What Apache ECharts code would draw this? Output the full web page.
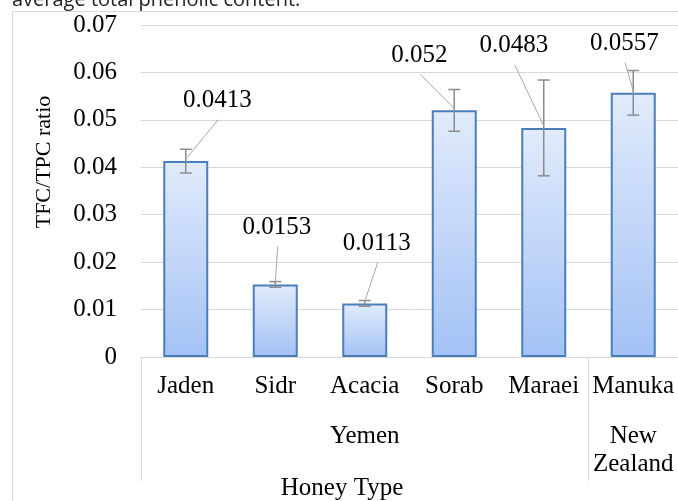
<!DOCTYPE html>
<html lang="en">

<head>
  <meta charset="UTF-8">
  <title>TFC/TPC ratio by honey type</title>
  <script src="https://cdn.jsdelivr.net/npm/echarts@6/dist/echarts.min.js"></script>
  <style>
    html, body { margin: 0; padding: 0; background: #fff; }
    #main { width: 678px; height: 501px; }
  </style>
</head>

<body>
  <div id="main"></div>
  <script>
    // 数据
    var categories = ['Jaden', 'Sidr', 'Acacia', 'Sorab', 'Maraei', 'Manuka'];
    var origins = ['', '', 'Yemen', '', '', 'New\nZealand'];
    var ratio = [0.0413, 0.0153, 0.0113, 0.052, 0.0483, 0.0557];
    var ratioErr = [0.0025, 0.0006, 0.0006, 0.0044, 0.0101, 0.0047];

    // 数据标签相对柱顶的偏移 (像素)
    var labelOffsets = [[31.5, -60.5], [1.5, -57], [12, -60], [-35, -55], [-30, -82], [-9, -49]];

    var serif = '"Liberation Serif", "Times New Roman", serif';
    var myChart = echarts.init(document.getElementById('main'));

    var option = {
      animation: false,
      grid: { left: 141, top: 25, width: 543, bottom: 144 },
      xAxis: [
        {
          type: 'category',
          data: categories,
          axisLine: { lineStyle: { color: '#d9d9d9', width: 1 } },
          axisTick: { show: false },
          axisLabel: { interval: 0, margin: 17, color: '#000', fontFamily: serif, fontSize: 25 }
        },
        {
          type: 'category',
          data: origins,
          position: 'bottom',
          axisLine: { show: false },
          axisTick: {
            show: true,
            length: 124,
            interval: function (index) { return index === 0 || index === 5; },
            lineStyle: { color: '#d9d9d9', width: 1 }
          },
          axisLabel: { interval: 0, margin: 65, color: '#000', fontFamily: serif, fontSize: 25, lineHeight: 28 }
        }
      ],
      yAxis: {
        type: 'value',
        min: 0,
        max: 0.07,
        interval: 0.01,
        axisLine: { show: false },
        axisTick: { show: false },
        splitLine: { lineStyle: { color: '#d9d9d9', width: 1 } },
        axisLabel: {
          margin: 24, color: '#000', fontFamily: serif, fontSize: 25,
          formatter: function (v) { return v === 0 ? '0' : v.toFixed(2); }
        }
      },
      graphic: [
        // 外框
        {
          type: 'rect', shape: { x: 12.5, y: 11.5, width: 700, height: 560 },
          style: { fill: 'none', stroke: '#d9d9d9', lineWidth: 1 }, silent: true
        },
        // 上方被截断的说明文字
        {
          type: 'text', x: 12, y: 0,
          style: { text: 'average total phenolic content.', fill: '#222', font: '20px "Open Sans", sans-serif', textVerticalAlign: 'middle' }
        },
        {
          type: 'text', x: 44, y: 162, rotation: Math.PI / 2,
          style: { text: 'TFC/TPC ratio', fill: '#000', font: '22px ' + serif, textAlign: 'center', textVerticalAlign: 'middle' }
        },
        {
          type: 'text', x: 342, y: 488,
          style: { text: 'Honey Type', fill: '#000', font: '25px ' + serif, textAlign: 'center', textVerticalAlign: 'middle' }
        }
      ],
      series: [
        {
          type: 'bar',
          data: ratio,
          barWidth: 45,
          itemStyle: {
            borderColor: '#4a7ebb',
            borderWidth: 2,
            color: new echarts.graphic.LinearGradient(0, 0, 0, 1, [
              { offset: 0, color: '#e1ebfc' },
              { offset: 1, color: '#a3c2f5' }
            ])
          }
        },
        {
          // 误差线
          type: 'custom',
          data: ratio.map(function (v, i) { return [i, v, ratioErr[i]]; }),
          z: 5,
          renderItem: function (params, api) {
            var i = api.value(0), v = api.value(1), e = api.value(2);
            var hi = api.coord([i, v + e]);
            var lo = api.coord([i, v - e]);
            var style = { stroke: '#8c8c8c', lineWidth: 1.5 };
            return {
              type: 'group',
              children: [
                { type: 'line', shape: { x1: hi[0], y1: hi[1], x2: lo[0], y2: lo[1] }, style: style },
                { type: 'line', shape: { x1: hi[0] - 6, y1: hi[1], x2: hi[0] + 6, y2: hi[1] }, style: style },
                { type: 'line', shape: { x1: lo[0] - 6, y1: lo[1], x2: lo[0] + 6, y2: lo[1] }, style: style }
              ]
            };
          }
        },
        {
          // 数据标签和引导线
          type: 'custom',
          data: ratio.map(function (v, i) { return [i, v]; }),
          z: 6,
          renderItem: function (params, api) {
            var i = api.value(0), v = api.value(1);
            var p = api.coord([i, v]);
            var off = labelOffsets[params.dataIndex];
            var tx = p[0] + off[0], ty = p[1] + off[1];
            return {
              type: 'group',
              children: [
                {
                  type: 'line',
                  shape: { x1: tx + 1, y1: ty + 19, x2: p[0], y2: p[1] - 2 },
                  style: { stroke: '#a6a6a6', lineWidth: 1 }
                },
                {
                  type: 'text', x: tx, y: ty,
                  style: { text: String(ratio[params.dataIndex]), fill: '#000', font: '25px ' + serif, textAlign: 'center', textVerticalAlign: 'middle' }
                }
              ]
            };
          }
        }
      ]
    };
    myChart.setOption(option);
  </script>
</body>

</html>
